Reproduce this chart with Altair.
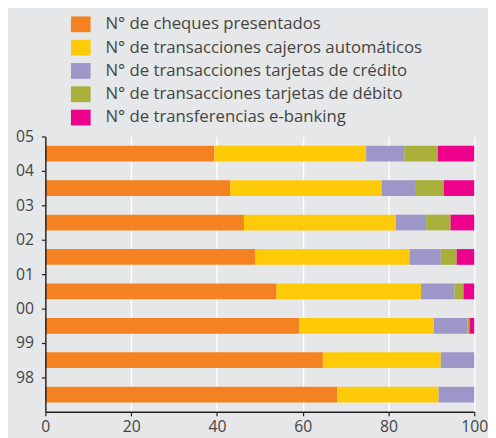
import altair as alt
import pandas as pd

years = ["05", "04", "03", "02", "01", "00", "99", "98"]
series = [
    "N° de cheques presentados",
    "N° de transacciones cajeros automáticos",
    "N° de transacciones tarjetas de crédito",
    "N° de transacciones tarjetas de débito",
    "N° de transferencias e-banking",
]
colors = ["#F58220", "#FFCB08", "#9D97C9", "#A8AF3A", "#EC008C"]

cheques = [39.4, 43.1, 46.3, 48.9, 53.9, 59.2, 64.7, 68.1]
cajeros = [35.4, 35.3, 35.4, 36.0, 33.7, 31.4, 27.5, 23.6]
credito = [8.9, 7.8, 7.1, 7.3, 7.8, 7.8, 7.8, 8.3]
debito = [7.8, 6.7, 5.7, 3.7, 2.1, 0.5, 0.0, 0.0]
ebanking = [8.5, 7.1, 5.5, 4.1, 2.5, 1.1, 0.0, 0.0]

rows = []
for i, y in enumerate(years):
    for k, vals in enumerate([cheques, cajeros, credito, debito, ebanking]):
        rows.append({"year": y, "serie": series[k], "orden": k, "valor": vals[i]})
df = pd.DataFrame(rows)

FONT = "Open Sans"
TXT = "#444444"

chart = alt.Chart(df).mark_bar(size=16).encode(
    y=alt.Y("year:N", sort=years, title=None,
            axis=alt.Axis(tickOffset=-17.5, labelBaseline="middle",
                          tickSize=4, labelPadding=8, domainColor="#231F20",
                          tickColor="#231F20", domainWidth=1.5, tickWidth=1.2,
                          labelFontSize=16, labelColor=TXT, labelFont=FONT,
                          grid=False, zindex=1)),
    x=alt.X("valor:Q", stack="zero", title=None,
            scale=alt.Scale(domain=[0, 100], nice=False),
            axis=alt.Axis(values=[0, 20, 40, 60, 80, 100], tickSize=4, labelPadding=3,
                          domainColor="#231F20", tickColor="#231F20", domainWidth=1.5,
                          tickWidth=1.2, labelFontSize=16, labelColor=TXT,
                          labelFont=FONT, grid=True, gridColor="#FFFFFF", gridWidth=1.5,
                          labelFlush=False)),
    color=alt.Color("serie:N", sort=series,
                    scale=alt.Scale(domain=series, range=colors),
                    legend=alt.Legend(title=None, orient="none", legendX=26, legendY=-124,
                                      symbolType="M-1,-0.8H1V0.8H-1Z", symbolSize=400,
                                      symbolStrokeWidth=0, symbolOpacity=1,
                                      labelFontSize=17, labelFont=FONT, labelColor=TXT,
                                      labelOffset=15, rowPadding=5.7, padding=0,
                                      labelLimit=450)),
    order=alt.Order("orden:Q"),
).properties(
    width=436, height=280,
    background="#E6E7E8",
    padding={"left": 38, "top": 127, "right": 14, "bottom": 25},
    autosize=alt.AutoSizeParams(type="none"),
).configure_view(stroke=None).configure_scale(bandPaddingInner=0, bandPaddingOuter=0)

chart.save("out.html", embed_options={"renderer": "svg", "actions": False})
